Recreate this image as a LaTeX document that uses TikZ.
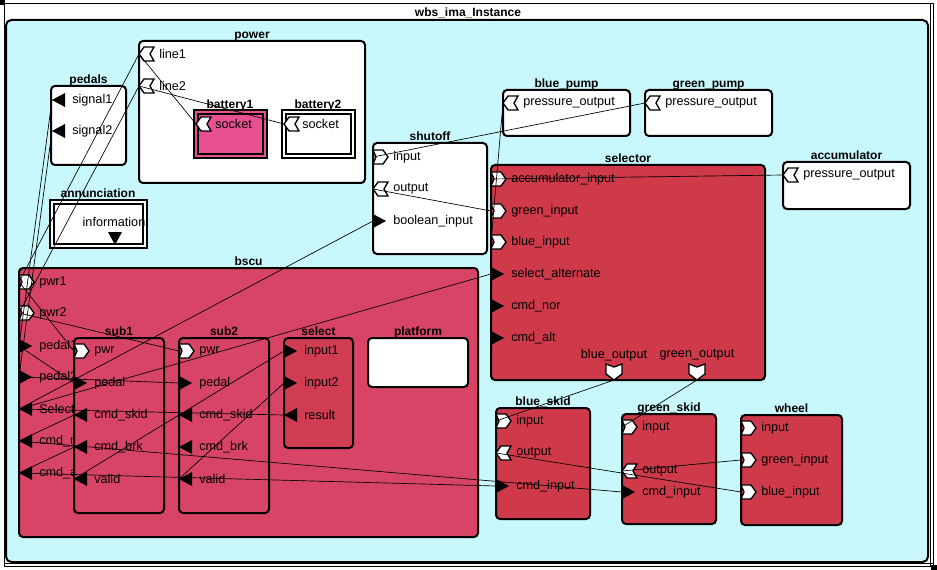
\documentclass[tikz,border=0pt]{standalone}
\usepackage{fontspec}
\setmainfont{Liberation Sans}
\usetikzlibrary{fit}

\definecolor{skyfill}{RGB}{200,248,252}
\definecolor{bscufill}{RGB}{215,68,102}
\definecolor{redfill}{RGB}{206,58,74}
\definecolor{selfill}{RGB}{208,60,82}
\definecolor{battfill}{RGB}{232,80,145}

\newcommand{\lblfont}{\fontsize{9.5}{11}\selectfont}

\tikzset{
  comp/.style={draw, line width=1.5pt, rounded corners=3pt, fill=white, inner sep=0pt},
  ttl/.style={font=\bfseries\small, inner sep=0pt, anchor=base},
  lbl/.style={font=\lblfont, inner sep=0pt, anchor=west},
  wire/.style={line width=0.5pt},
  % port glyphs
  din/.pic={\fill (0,-7) -- (13,0) -- (0,7) -- cycle;},
  dout/.pic={\fill (13,-7) -- (0,0) -- (13,7) -- cycle;},
  fin/.pic={\draw[fill=white, line width=1pt] (0,-7) -- (10,-7) -- (15,0) -- (10,7) -- (0,7) -- (3,0) -- cycle;},
  fout/.pic={\draw[fill=white, line width=1pt] (0,0) -- (5,-7) -- (15,-7) -- (11,0) -- (15,7) -- (5,7) -- cycle;},
  fdown/.pic={\draw[fill=white, line width=1pt] (-8,-8) -- (0,-5) -- (8,-8) -- (8,2) -- (0,8) -- (-8,2) -- cycle;},
}

% double framed box: corner 1, corner 2, fill
\newcommand{\bevelbox}[3]{%
  \draw[line width=1pt, fill=#3] (#1) rectangle (#2);
  \draw[line width=1.5pt] ([shift={(4,4)}]#1) rectangle ([shift={(-4,-4)}]#2);
}

\begin{document}
\begin{tikzpicture}[x=0.75pt, y=-0.75pt]
\useasboundingbox (0,0) rectangle (937,570);

% outer frame
\fill[white] (0,0) rectangle (937,570);
\draw[line width=0.75pt] (4,4) rectangle (933,566);
\draw[line width=0.75pt] (930,4) -- (930,566);
\draw[line width=0.75pt] (4,563) -- (933,563);
\fill (0,0) rectangle (5,5);
\fill (931,565) rectangle (937,570);
\node[ttl] at (468,17) {wbs\_ima\_Instance};
\draw[line width=1.5pt, fill=skyfill, rounded corners=4pt] (6,20) rectangle (928,562);

% power
\node[comp, fit={(139,41) (365,183)}] (power) {};
\node[ttl] at ([yshift=1pt]power.north) {power};
\pic at (139,54) {fout}; \coordinate (pw-l1) at (139,54);
\pic at (139,86) {fout}; \coordinate (pw-l2) at (139,86);
\node[lbl] at (159,54) {line1};
\node[lbl] at (159,86) {line2};

% batteries
\bevelbox{194,110}{267,158}{battfill}
\node[ttl] (battery1) at (230,109) {battery1};
\pic at (196,124) {fout}; \coordinate (b1-sock) at (196,124);
\node[lbl] at (215,124) {socket};
\bevelbox{282,110}{355,158}{white}
\node[ttl] (battery2) at (318,109) {battery2};
\pic at (284,124) {fout}; \coordinate (b2-sock) at (284,124);
\node[lbl] at (302,124) {socket};

% pedals
\node[comp, fit={(51,86) (126,165)}] (pedals) {};
\node[ttl] at ([yshift=1pt]pedals.north) {pedals};
\pic at (52,100) {dout}; \coordinate (pd-s1) at (52,100);
\pic at (52,131) {dout}; \coordinate (pd-s2) at (52,131);
\node[lbl] at (72,100) {signal1};
\node[lbl] at (72,131) {signal2};

% annunciation
\bevelbox{50,200}{147,248}{white}
\node[ttl] (annunciation) at (98,198) {annunciation};
\node[font=\lblfont, inner sep=0pt] at (114,222) {information};
\fill (108,232) -- (122,232) -- (115,245) -- cycle;

% shutoff
\node[comp, fit={(373,143) (487,254)}] (shutoff) {};
\node[ttl] at ([yshift=1pt]shutoff.north) {shutoff};
\pic at (373,157) {fin};  \coordinate (so-in) at (373,157);
\pic at (373,189) {fout}; \coordinate (so-out) at (373,189);
\pic at (373,221) {din};  \coordinate (so-bool) at (373,221);
\node[lbl] at (393,157) {input};
\node[lbl] at (393,189) {output};
\node[lbl] at (393,221) {boolean\_input};

% pumps and accumulator
\node[comp, fit={(503,90) (630,136)}] (bluepump) {};
\node[ttl] at ([yshift=1pt]bluepump.north) {blue\_pump};
\pic at (503,103) {fout}; \coordinate (bp-out) at (503,103);
\node[lbl] at (523,103) {pressure\_output};
\node[comp, fit={(645,90) (772,136)}] (greenpump) {};
\node[ttl] at ([yshift=1pt]greenpump.north) {green\_pump};
\pic at (645,103) {fout}; \coordinate (gp-out) at (645,103);
\node[lbl] at (665,103) {pressure\_output};
\node[comp, fit={(783,162) (910,209)}] (accu) {};
\node[ttl] at ([yshift=1pt]accu.north) {accumulator};
\pic at (783,175) {fout}; \coordinate (ac-out) at (783,175);
\node[lbl] at (803,175) {pressure\_output};

% selector
\node[comp, fill=redfill, fit={(491,165) (765,380)}] (selector) {};
\node[ttl] at ([yshift=1pt]selector.north) {selector};
\pic at (491,179) {fin}; \coordinate (se-acc) at (491,179);
\pic at (491,211) {fin}; \coordinate (se-grn) at (491,211);
\pic at (491,242) {fin}; \coordinate (se-blu) at (491,242);
\pic at (491,274) {din}; \coordinate (se-alt) at (491,274);
\pic at (491,306) {din}; \coordinate (se-nor) at (491,306);
\pic at (491,338) {din}; \coordinate (se-calt) at (491,338);
\node[lbl] at (511,179) {accumulator\_input};
\node[lbl] at (511,211) {green\_input};
\node[lbl] at (511,242) {blue\_input};
\node[lbl] at (511,274) {select\_alternate};
\node[lbl] at (511,306) {cmd\_nor};
\node[lbl] at (511,338) {cmd\_alt};
\node[font=\lblfont, inner sep=0pt] at (614,355) {blue\_output};
\node[font=\lblfont, inner sep=0pt] at (697,355) {green\_output};
\pic at (614,372) {fdown}; \coordinate (se-bout) at (614,380);
\pic at (697,372) {fdown}; \coordinate (se-gout) at (697,380);

% bscu
\node[comp, fill=bscufill, fit={(19,268) (478,537)}] (bscu) {};
\node[ttl] at ([yshift=1pt]bscu.north) {bscu};
\pic at (19,282) {fin};  \coordinate (bs-pwr1) at (19,282);
\pic at (19,313) {fin};  \coordinate (bs-pwr2) at (19,313);
\pic at (19,346) {din};  \coordinate (bs-ped1) at (19,346);
\pic at (19,377) {din};  \coordinate (bs-ped2) at (19,377);
\pic at (19,409) {dout}; \coordinate (bs-sel) at (19,409);
\pic at (19,441) {dout}; \coordinate (bs-nor) at (19,441);
\pic at (19,473) {dout}; \coordinate (bs-alt) at (19,473);
\node[lbl] at (39,282) {pwr1};
\node[lbl] at (39,313) {pwr2};
\begin{scope}
  \clip (19,330) rectangle (74,490);
  \node[lbl] at (39,346) {pedal1};
  \node[lbl] at (39,377) {pedal2};
  \node[lbl] at (39,409) {Select};
  \node[lbl] at (39,441) {cmd\_n};
  \node[lbl] at (39,473) {cmd\_a};
\end{scope}

% sub1, sub2
\node[comp, fill=bscufill, fit={(74,338) (164,513)}] (sub1) {};
\node[ttl] at ([yshift=1pt]sub1.north) {sub1};
\pic at (74,351) {fin};  \coordinate (s1-pwr) at (74,351);
\pic at (74,383) {din};  \coordinate (s1-ped) at (74,383);
\pic at (74,415) {dout}; \coordinate (s1-skid) at (74,415);
\pic at (74,447) {dout}; \coordinate (s1-brk) at (74,447);
\pic at (74,479) {dout}; \coordinate (s1-val) at (74,479);
\node[lbl] at (94,351) {pwr};
\node[lbl] at (94,383) {pedal};
\node[lbl] at (94,415) {cmd\_skid};
\node[lbl] at (94,447) {cmd\_brk};
\node[lbl] at (94,479) {valid};
\node[comp, fill=bscufill, fit={(179,338) (269,513)}] (sub2) {};
\node[ttl] at ([yshift=1pt]sub2.north) {sub2};
\pic at (179,351) {fin};  \coordinate (s2-pwr) at (179,351);
\pic at (179,383) {din};  \coordinate (s2-ped) at (179,383);
\pic at (179,415) {dout}; \coordinate (s2-skid) at (179,415);
\pic at (179,447) {dout}; \coordinate (s2-brk) at (179,447);
\pic at (179,479) {dout}; \coordinate (s2-val) at (179,479);
\node[lbl] at (199,351) {pwr};
\node[lbl] at (199,383) {pedal};
\node[lbl] at (199,415) {cmd\_skid};
\node[lbl] at (199,447) {cmd\_brk};
\node[lbl] at (199,479) {valid};

% select, platform
\node[comp, fill=selfill, fit={(284,338) (353,448)}] (select) {};
\node[ttl] at ([yshift=1pt]select.north) {select};
\pic at (284,351) {din};  \coordinate (sl-in1) at (284,351);
\pic at (284,383) {din};  \coordinate (sl-in2) at (284,383);
\pic at (284,415) {dout}; \coordinate (sl-res) at (284,415);
\node[lbl] at (304,351) {input1};
\node[lbl] at (304,383) {input2};
\node[lbl] at (304,415) {result};
\node[comp, fit={(368,338) (468,387)}] (platform) {};
\node[ttl] at ([yshift=1pt]platform.north) {platform};

% skids and wheel
\node[comp, fill=redfill, fit={(496,408) (590,519)}] (blueskid) {};
\node[ttl] at ([yshift=1pt]blueskid.north) {blue\_skid};
\pic at (496,421) {fin};  \coordinate (bk-in) at (496,421);
\pic at (496,453) {fout}; \coordinate (bk-out) at (496,453);
\pic at (496,486) {din};  \coordinate (bk-cmd) at (496,486);
\node[lbl] at (516,421) {input};
\node[lbl] at (516,453) {output};
\node[lbl] at (516,486) {cmd\_input};
\node[comp, fill=redfill, fit={(622,414) (716,524)}] (greenskid) {};
\node[ttl] at ([yshift=1pt]greenskid.north) {green\_skid};
\pic at (622,427) {fin};  \coordinate (gk-in) at (622,427);
\pic at (622,471) {fout}; \coordinate (gk-out) at (622,471);
\pic at (622,492) {din};  \coordinate (gk-cmd) at (622,492);
\node[lbl] at (642,427) {input};
\node[lbl] at (642,471) {output};
\node[lbl] at (642,492) {cmd\_input};
\node[comp, fill=redfill, fit={(741,415) (842,525)}] (wheel) {};
\node[ttl] at ([yshift=1pt]wheel.north) {wheel};
\pic at (741,428) {fin}; \coordinate (wh-in) at (741,428);
\pic at (741,460) {fin}; \coordinate (wh-grn) at (741,460);
\pic at (741,492) {fin}; \coordinate (wh-blu) at (741,492);
\node[lbl] at (761,428) {input};
\node[lbl] at (761,460) {green\_input};
\node[lbl] at (761,492) {blue\_input};

% connections
\draw[wire] (pw-l1) -- (b1-sock);
\draw[wire] (pw-l2) -- (b2-sock);
\draw[wire] (pw-l1) -- (bs-pwr1);
\draw[wire] (pw-l2) -- (bs-pwr2);
\draw[wire] (pd-s1) -- (bs-ped1);
\draw[wire] (pd-s2) -- (bs-ped2);
\draw[wire] (bs-pwr1) -- (s1-pwr);
\draw[wire] (bs-pwr2) -- (s2-pwr);
\draw[wire] (bs-ped1) -- (s1-ped);
\draw[wire] (bs-ped2) -- (s2-ped);
\draw[wire] (sl-res) -- (bs-sel);
\draw[wire] (bs-sel) -- (so-bool);
\draw[wire] (bs-sel) -- (se-alt);
\draw[wire] (s1-val) -- (sl-in1);
\draw[wire] (s2-val) -- (sl-in2);
\draw[wire] (s1-skid) -- (bs-nor);
\draw[wire] (s1-brk) -- (bs-alt);
\draw[wire] (bs-nor) -- (gk-cmd);
\draw[wire] (bs-alt) -- (bk-cmd);
\draw[wire] (gp-out) -- (so-in);
\draw[wire] (so-out) -- (se-grn);
\draw[wire] (bp-out) -- (se-blu);
\draw[wire] (ac-out) -- (se-acc);
\draw[wire] (se-bout) -- (bk-in);
\draw[wire] (se-gout) -- (gk-in);
\draw[wire] (bk-out) -- (wh-blu);
\draw[wire] (gk-out) -- (wh-grn);
\end{tikzpicture}
\end{document}
